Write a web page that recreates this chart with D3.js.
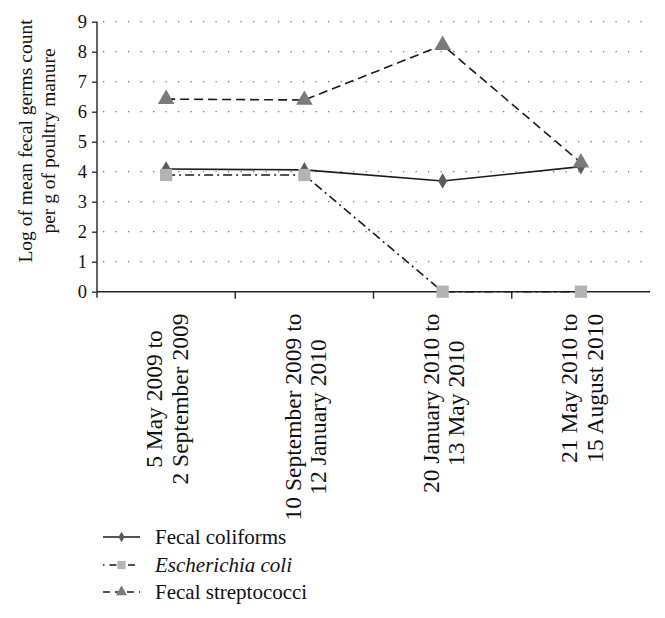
<!DOCTYPE html>
<html><head><meta charset="utf-8">
<script src="https://cdn.jsdelivr.net/npm/d3@7"></script>
<style>
html,body{margin:0;padding:0;background:#fff;}
svg{display:block;font-family:"Liberation Serif","Times New Roman",serif;}
svg text{font-family:"Liberation Serif","Times New Roman",serif;}
</style></head>
<body><svg id="chart" width="665" height="618"></svg>
<script>
const categories = [
  ["5 May 2009 to", "2 September 2009"],
  ["10 September 2009 to", "12 January 2010"],
  ["20 January 2010 to", "13 May 2010"],
  ["21 May 2010 to", "15 August 2010"]
];
const fecalColiforms = [4.09, 4.06, 3.69, 4.17];
const eColi = [3.89, 3.89, 0, 0];
const fecalStreptococci = [6.42, 6.39, 8.22, 4.3];
const yTicks = [0,1,2,3,4,5,6,7,8,9];
const yTitle = ["Log of mean fecal germs count", "per g of poultry manure"];
const seriesNames = ["Fecal coliforms", "Escherichia coli", "Fecal streptococci"];

const svg = d3.select("#chart");
const pLeft = 97, pRight = 650, pTop = 21.7, pBottom = 291.7;
const keys = categories.map((c,i)=>i);
const x = d3.scaleBand().domain(keys).range([pLeft, pRight]).padding(0);
const y = d3.scaleLinear().domain([0, 9]).range([pBottom, pTop]);

// gridlines
svg.append("g").selectAll("line").data(yTicks.filter(d=>d>0)).join("line")
  .attr("x1", pLeft + 6).attr("x2", pRight)
  .attr("y1", d=>y(d)).attr("y2", d=>y(d))
  .attr("stroke", "#777").attr("stroke-width", 1.3)
  .attr("stroke-dasharray", "1.3,11.2");

// y axis
const yAxis = svg.append("g").attr("transform", `translate(${pLeft},0)`)
  .call(d3.axisLeft(y).tickValues(yTicks).tickSize(5).tickPadding(5).tickFormat(d3.format("d")));
yAxis.attr("font-family", null);
yAxis.select(".domain").attr("stroke", "#222").attr("stroke-width", 1.4).attr("d", `M0,${pBottom+6}V${pTop}`);
yAxis.selectAll(".tick line").attr("stroke", "#222").attr("stroke-width", 1.3);
yAxis.selectAll(".tick text").attr("font-size", 18.5).attr("fill", "#111");

// x axis
const xAxis = svg.append("g");
xAxis.append("line").attr("x1", pLeft).attr("x2", pRight).attr("y1", pBottom).attr("y2", pBottom)
  .attr("stroke", "#222").attr("stroke-width", 1.4);
xAxis.selectAll("line.tk").data(keys.slice(1)).join("line").attr("class","tk")
  .attr("x1", d=>x(d)).attr("x2", d=>x(d)).attr("y1", pBottom).attr("y2", pBottom + 7)
  .attr("stroke", "#222").attr("stroke-width", 1.4);

// x labels
const labelTop = 313.5, xFont = 23.5, lineGap = 25.5;
keys.forEach(k => {
  const cx = x(k) + x.bandwidth()/2 + 1;
  const g = svg.append("g").attr("transform", `translate(${cx},${labelTop}) rotate(-90)`);
  const texts = categories[k].map((t,i)=> g.append("text").text(t)
    .attr("font-size", xFont).attr("fill", "#111")
    .attr("text-anchor", "middle").attr("dominant-baseline", "central")
    .attr("y", (i - 0.5) * lineGap));
  const maxW = d3.max(texts, t => t.node().getComputedTextLength());
  texts.forEach(t => t.attr("x", -maxW/2));
});

// y title
const yt = svg.append("g").attr("transform", `translate(37,141) rotate(-90)`);
yTitle.forEach((t,i)=> yt.append("text").text(t).attr("font-size", 19.5).attr("fill","#111")
  .attr("text-anchor","middle").attr("dominant-baseline","central").attr("y", (i-0.5)*23));

// series
const styles = [
  {vals: fecalColiforms, dash: null, shape: d3.symbolDiamond, size: 70, fill: "#5a5a5a"},
  {vals: eColi, dash: "9,4,2,4", shape: d3.symbolSquare, size: 150, fill: "#b3b3b3"},
  {vals: fecalStreptococci, dash: "9,5", shape: d3.symbolTriangle, size: 120, fill: "#7a7a7a"}
];
const line = d3.line().x((d,i)=>x(i)+x.bandwidth()/2).y(d=>y(d));
styles.forEach(s => {
  svg.append("path").datum(s.vals).attr("d", line).attr("fill","none")
    .attr("stroke", "#1a1a1a").attr("stroke-width", 1.6)
    .attr("stroke-dasharray", s.dash);
  svg.append("g").selectAll("path").data(s.vals).join("path")
    .attr("transform", (d,i)=>`translate(${x(i)+x.bandwidth()/2},${y(d)})`)
    .attr("d", d3.symbol().type(s.shape).size(s.size)).attr("fill", s.fill);
});

// legend
const legY = [537, 565, 592];
styles.forEach((s,i) => {
  const g = svg.append("g").attr("transform", `translate(0,${legY[i]})`);
  g.append("line").attr("x1", 103).attr("x2", 140).attr("y1", 0).attr("y2", 0)
    .attr("stroke", "#1a1a1a").attr("stroke-width", 1.6)
    .attr("stroke-dasharray", i===0 ? null : (i===1 ? "1.5,5,7,5" : "7,5"));
  g.append("path").attr("transform","translate(121.5,0)")
    .attr("d", d3.symbol().type(s.shape).size(s.size*0.45)).attr("fill", s.fill);
  g.append("text").text(seriesNames[i]).attr("x", 155).attr("font-size", 21)
    .attr("dominant-baseline","central").attr("fill","#111")
    .attr("font-style", i===1 ? "italic" : null);
});
</script></body></html>
